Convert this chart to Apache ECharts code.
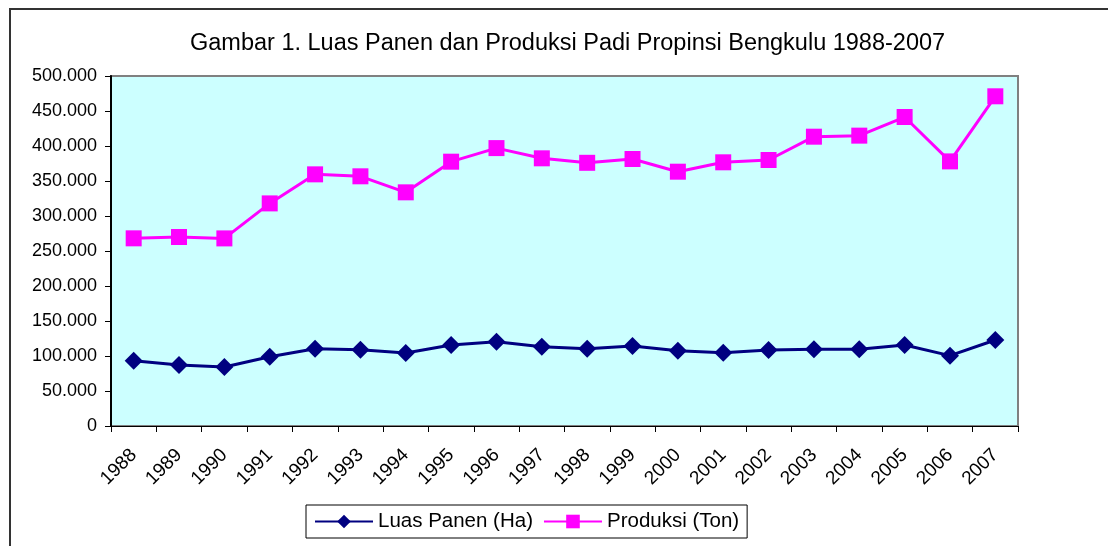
<!DOCTYPE html>
<html>
<head>
<meta charset="utf-8">
<script src="https://cdn.jsdelivr.net/npm/echarts@6/dist/echarts.min.js"></script>
<style>
  html, body { margin: 0; padding: 0; background: #fff; }
  #chart { width: 1108px; height: 546px; }
</style>
</head>
<body>
<div id="chart"></div>
<script>
// data
const years = ['1988','1989','1990','1991','1992','1993','1994','1995','1996','1997',
               '1998','1999','2000','2001','2002','2003','2004','2005','2006','2007'];
const luasPanen = [93300, 87100, 84300, 99000, 110500, 109000, 104300, 115700, 120500, 113300,
                   110500, 114300, 107600, 104800, 108600, 109500, 109500, 115700, 100500, 122900];
const produksi = [268100, 270000, 268000, 318000, 359500, 356700, 333800, 377600, 397000, 382400,
                  376000, 381400, 363300, 376700, 380000, 413300, 414800, 441400, 378000, 471000];

const font = 'Liberation Sans, Arial, sans-serif';

// 500000 -> "500.000"
const fmt = v => String(v).replace(/\B(?=(\d{3})+(?!\d))/g, '.');

const myChart = echarts.init(document.getElementById('chart'));

const option = {
  backgroundColor: '#ffffff',
  animation: false,
  title: {
    text: 'Gambar 1. Luas Panen dan Produksi Padi Propinsi Bengkulu 1988-2007',
    left: 185,
    top: 27,
    textStyle: { fontFamily: font, fontSize: 23.5, fontWeight: 'normal', color: '#000' }
  },
  // outer frame of the chart object
  graphic: [{
    type: 'rect',
    shape: { x: 10, y: 9, width: 1120, height: 560 },
    style: { fill: 'none', stroke: '#333', lineWidth: 2 },
    silent: true
  }],
  grid: {
    left: 111,
    top: 76,
    width: 907,
    height: 350,
    show: true,
    backgroundColor: '#CCFFFF',
    borderColor: '#808080',
    borderWidth: 2
  },
  legend: {
    bottom: 8,
    left: 306,
    itemWidth: 58,
    itemHeight: 17,
    itemGap: 10,
    padding: [6, 8, 6, 8],
    borderColor: '#000',
    borderWidth: 1,
    textStyle: { fontFamily: font, fontSize: 20.5, color: '#000' },
    data: ['Luas Panen (Ha)', 'Produksi (Ton)']
  },
  xAxis: {
    type: 'category',
    data: years,
    boundaryGap: true,
    axisLine: { lineStyle: { color: '#000', width: 1 } },
    axisTick: { show: true, interval: 0, length: 6, lineStyle: { color: '#000' } },
    axisLabel: {
      interval: 0,
      rotate: 45,
      margin: 26,
      fontFamily: font,
      fontSize: 19,
      color: '#000'
    },
    splitLine: { show: false }
  },
  yAxis: {
    type: 'value',
    min: 0,
    max: 500000,
    interval: 50000,
    axisLine: { show: true, lineStyle: { color: '#000', width: 2 } },
    axisTick: { show: true, length: 6, lineStyle: { color: '#000' } },
    axisLabel: {
      margin: 14,
      fontFamily: font,
      fontSize: 18,
      color: '#000',
      formatter: fmt
    },
    splitLine: { show: false }
  },
  series: [
    {
      name: 'Luas Panen (Ha)',
      type: 'line',
      data: luasPanen,
      symbol: 'diamond',
      symbolSize: 18,
      lineStyle: { color: '#000080', width: 3 },
      itemStyle: { color: '#000080' }
    },
    {
      name: 'Produksi (Ton)',
      type: 'line',
      data: produksi,
      symbol: 'rect',
      symbolSize: 16,
      lineStyle: { color: '#FF00FF', width: 3 },
      itemStyle: { color: '#FF00FF' }
    }
  ]
};

myChart.setOption(option);
</script>
</body>
</html>
